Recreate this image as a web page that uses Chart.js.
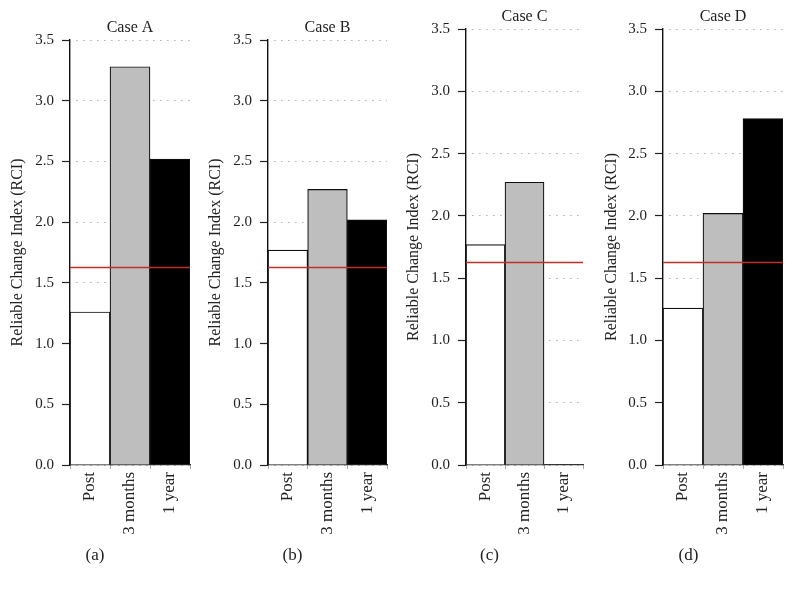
<!DOCTYPE html>
<html>
<head>
<meta charset="utf-8">
<script src="https://cdn.jsdelivr.net/npm/chart.js@4.4.0/dist/chart.umd.min.js"></script>
<style>
  html, body { margin: 0; padding: 0; background: #fff; }
  body { width: 794px; height: 590px; position: relative; overflow: hidden; }
  canvas { position: absolute; top: 0; }
</style>
</head>
<body>
<canvas id="chartA" width="198" height="590" style="left:0px"></canvas>
<canvas id="chartB" width="198" height="590" style="left:198px"></canvas>
<canvas id="chartC" width="198" height="590" style="left:396px"></canvas>
<canvas id="chartD" width="200" height="590" style="left:594px"></canvas>
<script>
// data
const categories = ["Post", "3 months", "1 year"];
const caseTitles = ["Case A", "Case B", "Case C", "Case D"];
const panelLabels = ["(a)", "(b)", "(c)", "(d)"];
const yAxisLabel = "Reliable Change Index (RCI)";

const caseA = [1.26, 3.28, 2.52];
const caseB = [1.77, 2.27, 2.02];
const caseC = [1.77, 2.27, null];
const caseD = [1.26, 2.02, 2.78];
const cutoffs = [1.63, 1.63, 1.63, 1.63];

const yMin = 0;
const yMax = 3.5;
const yStep = 0.5;

const barColors = ["#ffffff", "#bebebe", "#000000"];
const serif = "'Liberation Serif', 'DejaVu Serif', serif";

// per panel placement (chart area top / right padding)
const panels = [
  { id: "chartA", values: caseA, top: 40, right: 8, axisWidth: 70 },
  { id: "chartB", values: caseB, top: 40, right: 9, axisWidth: 70 },
  { id: "chartC", values: caseC, top: 29, right: 11, axisWidth: 70 },
  { id: "chartD", values: caseD, top: 29, right: 11, axisWidth: 69 }
];

// red RCI cut-off, placed with the y scale across the whole plot
const cutoffLine = {
  id: "cutoffLine",
  afterDatasetsDraw(chart, args, opts) {
    const { ctx, chartArea, scales } = chart;
    const y = Math.round(scales.y.getPixelForValue(opts.value)) + 0.5;
    ctx.save();
    ctx.strokeStyle = opts.color;
    ctx.lineWidth = 1.3;
    ctx.beginPath();
    ctx.moveTo(chartArea.left, y);
    ctx.lineTo(chartArea.right, y);
    ctx.stroke();
    ctx.restore();
  }
};

function makeChart(i) {
  const p = panels[i];
  const ctx = document.getElementById(p.id);

  return new Chart(ctx, {
    type: "bar",
    plugins: [cutoffLine],
    data: {
      labels: categories,
      datasets: [
        {
          data: p.values,
          backgroundColor: barColors,
          borderColor: "#111",
          borderWidth: 1.2,
          categoryPercentage: 1,
          barPercentage: 1
        }
      ]
    },
    options: {
      responsive: false,
      animation: false,
      layout: { padding: { left: 0, right: p.right, top: 0, bottom: 0 } },
      plugins: {
        legend: { display: false },
        tooltip: { enabled: false },
        cutoffLine: { value: cutoffs[i], color: "#c0302a" },
        title: {
          display: true,
          text: caseTitles[i],
          fullSize: false,
          color: "#222",
          font: { family: serif, size: 16, weight: "normal", lineHeight: 1.2 },
          padding: { top: p.top - 2.5 - 19.2, bottom: 2.5 }
        },
        subtitle: {
          display: true,
          position: "bottom",
          text: panelLabels[i],
          color: "#222",
          font: { family: serif, size: 17, weight: "normal", lineHeight: 1.2 },
          padding: { top: 0, bottom: 24.6 }
        }
      },
      scales: {
        x: {
          type: "category",
          afterFit(scale) { scale.height = 80; },
          grid: {
            display: true,
            offset: true,
            drawOnChartArea: false,
            tickLength: 4,
            color: "#aaa"
          },
          border: { color: "#333", width: 1.2 },
          ticks: {
            color: "#222",
            font: { family: serif, size: 17 },
            minRotation: 90,
            maxRotation: 90,
            padding: 3
          }
        },
        y: {
          min: yMin,
          max: yMax,
          afterFit(scale) { scale.width = p.axisWidth; },
          grid: {
            color: "#888",
            lineWidth: 1,
            tickColor: "#222",
            tickWidth: 1.2,
            tickLength: 8,
            tickBorderDash: []
          },
          border: { color: "#111", width: 1.4, dash: [1, 6], dashOffset: 1 },
          ticks: {
            stepSize: yStep,
            color: "#222",
            padding: 8,
            font: { family: serif, size: 15 },
            callback: (v) => Number(v).toFixed(1)
          },
          title: {
            display: true,
            text: yAxisLabel,
            color: "#222",
            font: { family: serif, size: 16, lineHeight: 1.2 },
            padding: { top: 8, bottom: 0 }
          }
        }
      }
    }
  });
}

panels.forEach((p, i) => makeChart(i));
</script>
</body>
</html>
